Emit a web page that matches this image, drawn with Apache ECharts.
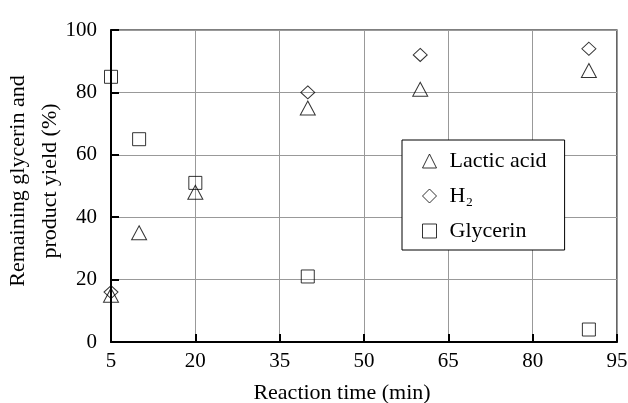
<!DOCTYPE html>
<html>
<head>
<meta charset="utf-8">
<script src="https://cdn.jsdelivr.net/npm/echarts@6/dist/echarts.min.js"></script>
<style>
html, body { margin: 0; padding: 0; background: #fff; }
#chart { width: 628px; height: 403px; }
</style>
</head>
<body>
<div id="chart"></div>
<script>
// reaction time (min) and yields (%)
var lacticTime = [5, 10, 20, 40, 60, 90];
var lacticYield = [15, 35, 48, 75, 81, 87];
var h2Time = [5, 40, 60, 90];
var h2Yield = [16, 80, 92, 94];
var glycerinTime = [5, 10, 20, 40, 90];
var glycerinLeft = [85, 65, 51, 21, 4];

var seriesNames = ['Lactic acid', 'H\u2082', 'Glycerin'];
var fontName = '"Liberation Serif", "DejaVu Serif", serif';

function pairs(xs, ys) {
    var out = [];
    for (var i = 0; i < xs.length; i++) {
        out.push([xs[i], ys[i]]);
    }
    return out;
}

var hollow = {
    color: 'rgba(255,255,255,0)',
    borderColor: '#000',
    borderWidth: 1
};

var myChart = echarts.init(document.getElementById('chart'));
myChart.setOption({
    backgroundColor: '#fff',
    animation: false,
    textStyle: { fontFamily: fontName, color: '#000' },
    grid: {
        left: 111,
        right: 11,
        top: 30,
        bottom: 61,
        outerBoundsMode: 'none',
        containLabel: false,
        show: true,
        borderColor: '#000',
        borderWidth: 1.2,
        backgroundColor: 'transparent'
    },
    legend: {
        orient: 'vertical',
        left: 402,
        top: 140,
        padding: [9, 18, 7, 20],
        itemGap: 11,
        itemWidth: 14,
        itemHeight: 14,
        backgroundColor: '#fff',
        borderColor: '#000',
        borderWidth: 1,
        borderRadius: 0,
        data: seriesNames,
        itemStyle: { borderWidth: 1 },
        textStyle: { fontFamily: fontName, fontSize: 22, color: '#000', lineHeight: 24, padding: [0, 0, 0, 8] }
    },
    xAxis: {
        type: 'value',
        min: 5,
        max: 95,
        interval: 15,
        name: 'Reaction time (min)',
        nameLocation: 'middle',
        nameGap: 40,
        nameMoveOverlap: false,
        nameTextStyle: { fontFamily: fontName, fontSize: 22, color: '#000', padding: [0, 44, 0, 0] },
        axisLine: { lineStyle: { color: '#000', width: 2 } },
        axisTick: { inside: true, length: 8, lineStyle: { color: '#000', width: 2 } },
        axisLabel: { fontFamily: fontName, fontSize: 21, color: '#000', margin: 9 },
        splitLine: { lineStyle: { color: '#999', width: 1 } }
    },
    yAxis: {
        type: 'value',
        min: 0,
        max: 100,
        interval: 20,
        name: 'Remaining glycerin and\nproduct yield (%)',
        nameLocation: 'middle',
        nameGap: 45,
        nameMoveOverlap: false,
        nameTextStyle: { fontFamily: fontName, fontSize: 22, color: '#000', lineHeight: 32, padding: [0, 0, 0, 10] },
        axisLine: { lineStyle: { color: '#000', width: 2 } },
        axisTick: { inside: true, length: 8, lineStyle: { color: '#000', width: 2 } },
        axisLabel: { fontFamily: fontName, fontSize: 21, color: '#000', margin: 14 },
        splitLine: { lineStyle: { color: '#999', width: 1 } }
    },
    series: [
        {
            name: seriesNames[0],
            type: 'scatter',
            symbol: 'triangle',
            symbolSize: [15, 14],
            itemStyle: hollow,
            data: pairs(lacticTime, lacticYield)
        },
        {
            name: seriesNames[1],
            type: 'scatter',
            symbol: 'diamond',
            symbolSize: [14, 13],
            itemStyle: hollow,
            data: pairs(h2Time, h2Yield)
        },
        {
            name: seriesNames[2],
            type: 'scatter',
            symbol: 'rect',
            symbolSize: 13,
            itemStyle: hollow,
            data: pairs(glycerinTime, glycerinLeft)
        }
    ]
});
</script>
</body>
</html>
